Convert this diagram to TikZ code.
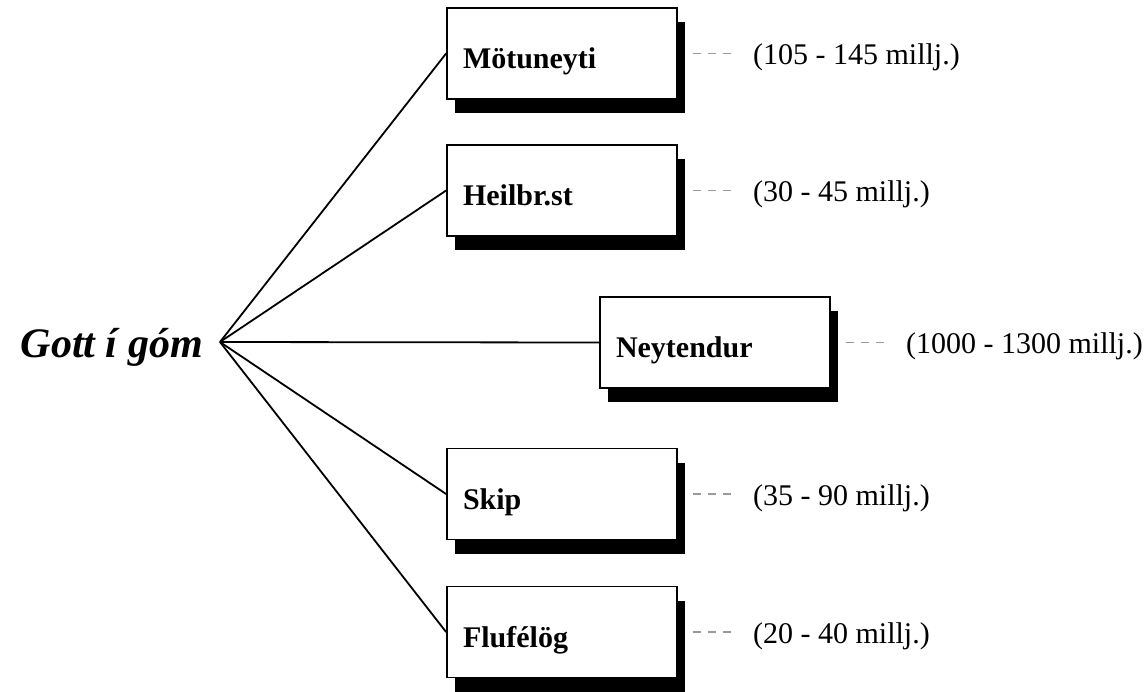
\documentclass[tikz,border=0pt]{standalone}
\usepackage{fontspec}
\setmainfont{Liberation Serif}
\usetikzlibrary{calc,shadows}
\begin{document}
\begin{tikzpicture}[x=1pt,y=-1pt,
  unitbox/.style={draw=black, line width=1.8pt, fill=white,
    minimum width=230pt, minimum height=91pt,
    text width=198pt, align=left, inner xsep=16pt, inner ysep=0pt,
    text height=30pt, text depth=0pt,
    font=\fontsize{30}{36}\selectfont\bfseries,
    drop shadow={shadow xshift=8pt, shadow yshift=-14pt, fill=black, opacity=1}},
  amount/.style={anchor=base west, inner sep=0pt,
    font=\fontsize{30}{36}\selectfont},
  link/.style={line width=1.8pt, black},
  dashlink/.style={line width=1.5pt, gray!80, dash pattern=on 8pt off 7pt}
]
\useasboundingbox (0,0) rectangle (1148,691);

% central title and the point where all branches meet
\node[anchor=base east, inner sep=0pt,
      font=\fontsize{42}{50}\selectfont\bfseries\itshape] (hub) at (203,357) {Gott í góm};
\coordinate (fork) at (220,342);

% the five units
\node[unitbox] (mot) at (562,53.5)  {Mötuneyti};
\node[unitbox] (hei) at (562,190.5) {Heilbr.st};
\node[unitbox] (ney) at (715,342.5) {Neytendur};
\node[unitbox] (ski) at (562,494)   {Skip};
\node[unitbox] (flu) at (562,632)   {Flufélög};

% branches from the title to each unit
\foreach \n in {mot,hei,ney,ski,flu}
  \draw[link] (fork) -- (\n.west);

% amounts beside each unit
\node[amount] (motv) at ($(mot.east)+(75,11)$) {(105 - 145 millj.)};
\node[amount] (heiv) at ($(hei.east)+(75,11)$) {(30 - 45 millj.)};
\node[amount] (neyv) at ($(ney.east)+(75,11)$) {(1000 - 1300 millj.)};
\node[amount] (skiv) at ($(ski.east)+(75,11)$) {(35 - 90 millj.)};
\node[amount] (fluv) at ($(flu.east)+(75,11)$) {(20 - 40 millj.)};

% short dashed leaders between unit and amount
\foreach \n in {mot,hei,ney,ski,flu}
  \draw[dashlink] ([xshift=15pt]\n.east) -- ([xshift=-22pt]\n v.west |- \n.east);
\end{tikzpicture}
\end{document}
